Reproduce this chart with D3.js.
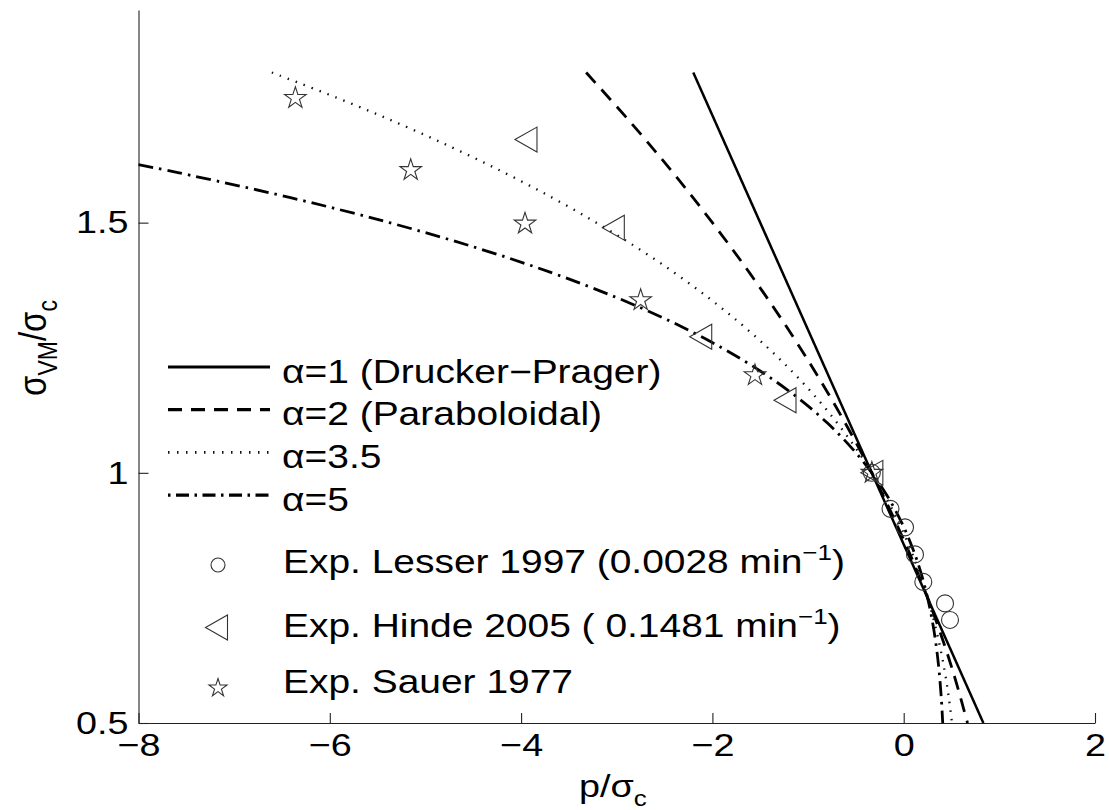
<!DOCTYPE html>
<html>
<head>
<meta charset="utf-8">
<script src="https://cdn.jsdelivr.net/npm/d3@7"></script>
<style>
  html, body { margin: 0; padding: 0; background: #fff; }
  svg { display: block; }
</style>
</head>
<body>
<div id="chart"></div>
<script>
// yield surfaces: p/sigma_c (P) against sigma_VM/sigma_c (S)
const alpha1P = [-2.2, 0.833];
const alpha1S = [1.8, 0.5];

const alpha2P = [-3.32, -2.853, -2.413, -2.0, -1.613, -1.253, -0.92, -0.613, -0.333, -0.08, 0.147, 0.347, 0.52, 0.667];
const alpha2S = [1.8, 1.7, 1.6, 1.5, 1.4, 1.3, 1.2, 1.1, 1.0, 0.9, 0.8, 0.7, 0.6, 0.5];

const alpha35P = [-6.606, -5.931, -5.302, -4.718, -4.176, -3.676, -3.213, -2.788, -2.398, -2.042, -1.717, -1.421, -1.154,
  -0.913, -0.697, -0.504, -0.333, -0.182, -0.05, 0.065, 0.165, 0.25, 0.322, 0.382, 0.432, 0.472, 0.505];
const alpha35S = [1.8, 1.75, 1.7, 1.65, 1.6, 1.55, 1.5, 1.45, 1.4, 1.35, 1.3, 1.25, 1.2,
  1.15, 1.1, 1.05, 1.0, 0.95, 0.9, 0.85, 0.8, 0.75, 0.7, 0.65, 0.6, 0.55, 0.5];

const alpha5P = [-8, -7.588, -6.411, -5.376, -4.471, -3.682, -2.998, -2.408, -1.903, -1.472, -1.107, -0.8, -0.545,
  -0.333, -0.16, -0.02, 0.092, 0.181, 0.25, 0.303, 0.343, 0.372, 0.393, 0.408];
const alpha5S = [1.616, 1.6, 1.55, 1.5, 1.45, 1.4, 1.35, 1.3, 1.25, 1.2, 1.15, 1.1, 1.05,
  1.0, 0.95, 0.9, 0.85, 0.8, 0.75, 0.7, 0.65, 0.6, 0.55, 0.5];

// experiments
const lesserP = [-0.333, -0.138, 0.014, 0.118, 0.205, 0.432, 0.484];
const lesserS = [1.0, 0.928, 0.891, 0.837, 0.782, 0.739, 0.706];
const hindeP = [-3.949, -3.036, -2.122, -1.241, -0.333];
const hindeS = [1.666, 1.49, 1.272, 1.145, 1.0];
const sauerP = [-6.36, -5.154, -3.959, -2.75, -1.555, -0.333];
const sauerS = [1.749, 1.605, 1.498, 1.345, 1.195, 1.0];

const xTicks = [-8, -6, -4, -2, 0, 2];
const yTicks = [0.5, 1, 1.5];
const lineLabels = ["α=1 (Drucker−Prager)", "α=2 (Paraboloidal)", "α=3.5", "α=5"];
const markerLabels = [
  ["Exp. Lesser 1997 (0.0028 min", "−1", ")"],
  ["Exp. Hinde 2005 ( 0.1481 min", "−1", ")"],
  ["Exp. Sauer 1977", "", ""]
];

const FONT = '"Liberation Sans", Arial, Helvetica, sans-serif';
const SX = 1.18;   // the original text is a bit wider than Arial

const svg = d3.select("#chart").append("svg")
    .attr("width", 1109)
    .attr("height", 810)
    .attr("font-family", FONT);

let x = d3.scaleLinear().domain([-8, 2]).range([138.5, 1095]);
let y = d3.scaleLinear().domain([0.5, 1.925]).range([723, 10]);

// axes, ticks pointing inwards
let xAxis = svg.append("g")
    .attr("transform", "translate(0,723)")
    .call(d3.axisBottom(x).tickValues(xTicks).tickSizeInner(-10).tickSizeOuter(0).tickPadding(10).tickFormat(d3.format("d")));
let yAxis = svg.append("g")
    .attr("transform", "translate(138.5,0)")
    .call(d3.axisLeft(y).tickValues(yTicks).tickSizeInner(-10).tickSizeOuter(0).tickPadding(8.5).tickFormat(d3.format("~g")));

[xAxis, yAxis].forEach(a => {
  a.attr("font-family", FONT).attr("font-size", 32);
  a.selectAll("path, line").attr("stroke", "#222").attr("stroke-width", 1.1);
  a.selectAll("text").attr("fill", "#000").attr("transform", `scale(${SX},1)`);
});

// axis titles
let xl = svg.append("text")
    .attr("transform", `translate(579,797) scale(${SX},1)`)
    .attr("font-size", 32);
xl.append("tspan").text("p/σ");
xl.append("tspan").attr("font-size", 22).attr("dy", 9).text("c");

let yl = svg.append("text")
    .attr("transform", `translate(46,348) scale(${SX},1) rotate(-90)`)
    .attr("text-anchor", "middle")
    .attr("font-size", 33);
yl.append("tspan").text("σ");
yl.append("tspan").attr("font-size", 23).attr("dy", 9).text("VM");
yl.append("tspan").attr("dy", -9).text("/σ");
yl.append("tspan").attr("font-size", 23).attr("dy", 9).text("c");

// curves
const curves = [
  {p: alpha1P, s: alpha1S, width: 2.5, dash: null, color: "#000"},
  {p: alpha2P, s: alpha2S, width: 2.8, dash: "14,9", color: "#000"},
  {p: alpha35P, s: alpha35S, width: 2.3, dash: "1.5,7", color: "#111"},
  {p: alpha5P, s: alpha5S, width: 2.8, dash: "15,6,2.5,6", color: "#000"}
];

let line = d3.line()
    .x(d => x(d[0]))
    .y(d => y(d[1]))
    .curve(d3.curveCatmullRom.alpha(0.5));

svg.append("g").selectAll("path")
    .data(curves)
    .enter().append("path")
    .attr("d", d => line(d3.zip(d.p, d.s)))
    .attr("fill", "none")
    .attr("stroke", d => d.color)
    .attr("stroke-width", d => d.width)
    .attr("stroke-dasharray", d => d.dash);

// marker shapes
const star = r => d3.symbol().type(d3.symbolStar).size(r * r / 0.8908130915)();
const tri = (w, h) => `M${-w / 2},0L${w / 2},${-h / 2}L${w / 2},${h / 2}Z`;
const circ = r => d3.symbol().type(d3.symbolCircle).size(Math.PI * r * r)();

const markers = [
  {p: lesserP, s: lesserS, shape: circ(8.5), legendShape: circ(7)},
  {p: hindeP, s: hindeS, shape: tri(22, 25), legendShape: tri(22, 25)},
  {p: sauerP, s: sauerS, shape: star(11.3), legendShape: star(9.5)}
];

markers.forEach(m => {
  svg.append("g").selectAll("path")
      .data(d3.zip(m.p, m.s))
      .enter().append("path")
      .attr("transform", d => `translate(${x(d[0])},${y(d[1])})`)
      .attr("d", m.shape)
      .attr("fill", "none")
      .attr("stroke", "#333")
      .attr("stroke-width", 1.1);
});

// legend
let legend = svg.append("g");
curves.forEach((c, i) => {
  let ly = 367 + i * 42.7;
  legend.append("line")
      .attr("x1", 168).attr("x2", 270)
      .attr("y1", ly).attr("y2", ly)
      .attr("stroke", c.color)
      .attr("stroke-width", i === 2 ? 2.8 : 3.2)
      .attr("stroke-dasharray", i === 3 ? "2.5,5.5,13,5.5" : i === 2 ? "1.5,7.5" : c.dash);
  legend.append("text")
      .attr("transform", `translate(282,${ly + 15.5}) scale(${SX},1)`)
      .attr("font-size", 33)
      .text(lineLabels[i]);
});

const markerRows = [[218, 565, 573], [216.5, 627.5, 637], [218, 688, 693]];
markers.forEach((m, i) => {
  let r = markerRows[i];
  legend.append("path")
      .attr("transform", `translate(${r[0]},${r[1]})`)
      .attr("d", m.legendShape)
      .attr("fill", "none")
      .attr("stroke", "#333")
      .attr("stroke-width", 1.1);
  let t = legend.append("text")
      .attr("transform", `translate(283,${r[2]}) scale(${SX},1)`)
      .attr("font-size", 33);
  t.append("tspan").text(markerLabels[i][0]);
  if (markerLabels[i][1]) {
    t.append("tspan").attr("font-size", 22).attr("dy", -13).text(markerLabels[i][1]);
    t.append("tspan").attr("dy", 13).text(markerLabels[i][2]);
  }
});
</script>
</body>
</html>
